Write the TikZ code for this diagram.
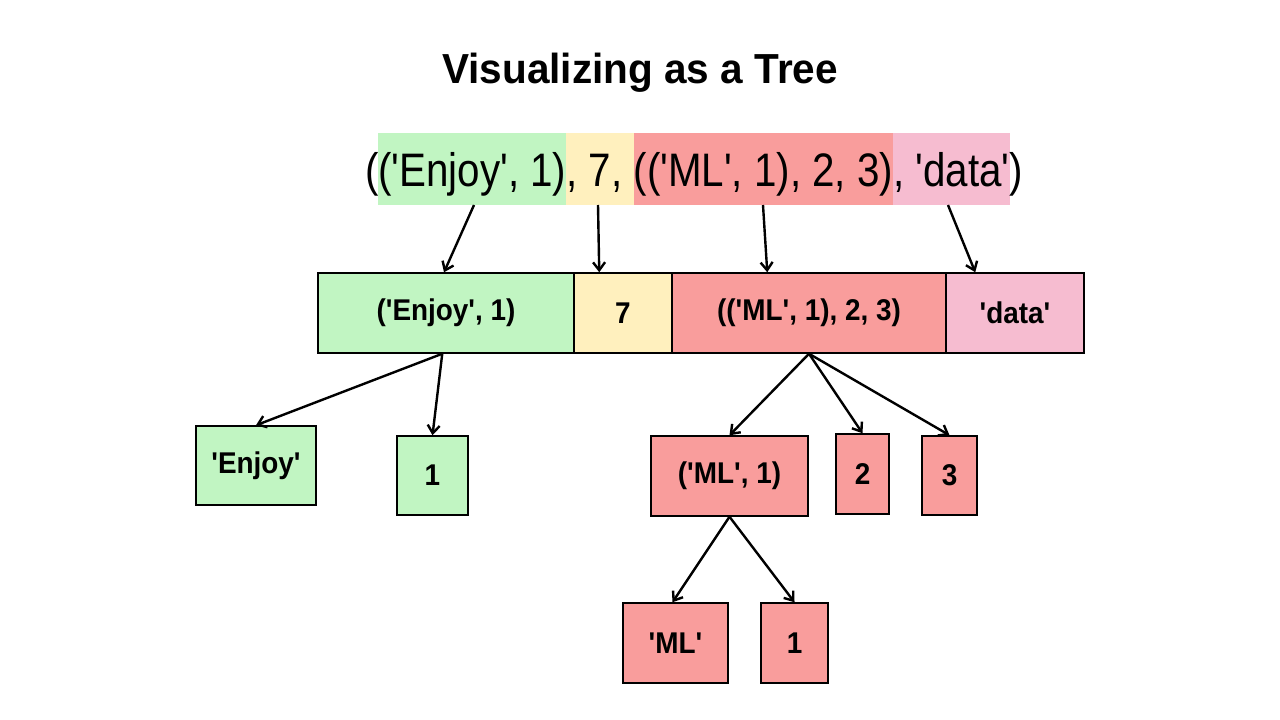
\documentclass[tikz,border=0pt]{standalone}
\usepackage{fontspec}
\setmainfont{Liberation Sans}[Ligatures=TeXOff]
\usetikzlibrary{arrows.meta}
\definecolor{cgreen}{HTML}{C1F5C2}
\definecolor{cyellow}{HTML}{FFF0BE}
\definecolor{cred}{HTML}{F99D9C}
\definecolor{cpink}{HTML}{F6BCD0}
\newcommand\hlseg[2]{{\setlength\fboxsep{0pt}\colorbox{#1}{\rule[-19pt]{0pt}{72pt}#2}}}
\newcommand\lbl[1]{\scalebox{0.93}[1]{#1}}
\tikzset{
  box/.style={draw, line width=1.5pt, inner sep=0pt, font=\bfseries\fontsize{30}{30}\selectfont},
  arr/.style={line width=2.4pt, -{Straight Barb[length=8pt,width=12pt,line width=2.4pt]}},
}
\begin{document}
\begin{tikzpicture}[x=1pt,y=-1pt]
\useasboundingbox[fill=white] (0,0) rectangle (1280,720);
% title
\node (title) at (640,73) {\scalebox{0.965}[1]{\bfseries\fontsize{42}{42}\selectfont Visualizing as a Tree}};
% tuple text
\node[inner sep=0pt, anchor=base] (tuple) at (694,186) {\scalebox{0.858}[1]{\fontsize{47}{47}\selectfont (\hlseg{cgreen}{('Enjoy', 1)}\hlseg{cyellow}{, 7, }\hlseg{cred}{(('ML', 1), 2, 3)}\hlseg{cpink}{, 'data'})}};
\coordinate (t1) at (474,205);
\coordinate (t2) at (598,205);
\coordinate (t3) at (763,205);
\coordinate (t4) at (948,205);
% middle row
\node[box, fill=cgreen, minimum width=256pt, minimum height=80pt] (m1) at (446,313) {\lbl{('Enjoy', 1)}};
\node[box, fill=cyellow, minimum width=98pt, minimum height=80pt] (m2) at (623,313) {\lbl{7}};
\node[box, fill=cred, minimum width=274pt, minimum height=80pt] (m3) at (809,313) {\lbl{(('ML', 1), 2, 3)}};
\node[box, fill=cpink, minimum width=138pt, minimum height=80pt] (m4) at (1015,313) {\lbl{'data'}};
% children
\node[box, fill=cgreen, minimum width=120pt, minimum height=79pt] (e1) at (256,465.5) {\lbl{'Enjoy'}};
\node[box, fill=cgreen, minimum width=71pt, minimum height=79pt] (e2) at (432.5,475.5) {\lbl{1}};
\node[box, fill=cred, minimum width=157pt, minimum height=80pt] (r1) at (729.5,476) {\lbl{('ML', 1)}};
\node[box, fill=cred, minimum width=53pt, minimum height=80pt] (r2) at (862.5,474) {\lbl{2}};
\node[box, fill=cred, minimum width=55pt, minimum height=79pt] (r3) at (949.5,475.5) {\lbl{3}};
\node[box, fill=cred, minimum width=105pt, minimum height=80pt] (s1) at (675.5,643) {\lbl{'ML'}};
\node[box, fill=cred, minimum width=67pt, minimum height=80pt] (s2) at (794.5,643) {\lbl{1}};
% arrows
\draw[arr] (t1) -- ([xshift=-2pt]m1.north);
\draw[arr] (t2) -- ([xshift=26pt]m2.north west);
\draw[arr] (t3) -- ([xshift=96pt]m3.north west);
\draw[arr] (t4) -- ([xshift=30pt]m4.north west);
\draw[arr] ([xshift=125pt]m1.south west) -- (e1.north);
\draw[arr] ([xshift=125pt]m1.south west) -- (e2.north);
\draw[arr] (m3.south) -- (r1.north);
\draw[arr] (m3.south) -- (r2.north);
\draw[arr] (m3.south) -- (r3.north);
\draw[arr] (r1.south) -- ([xshift=-3pt]s1.north);
\draw[arr] (r1.south) -- (s2.north);
\end{tikzpicture}
\end{document}
